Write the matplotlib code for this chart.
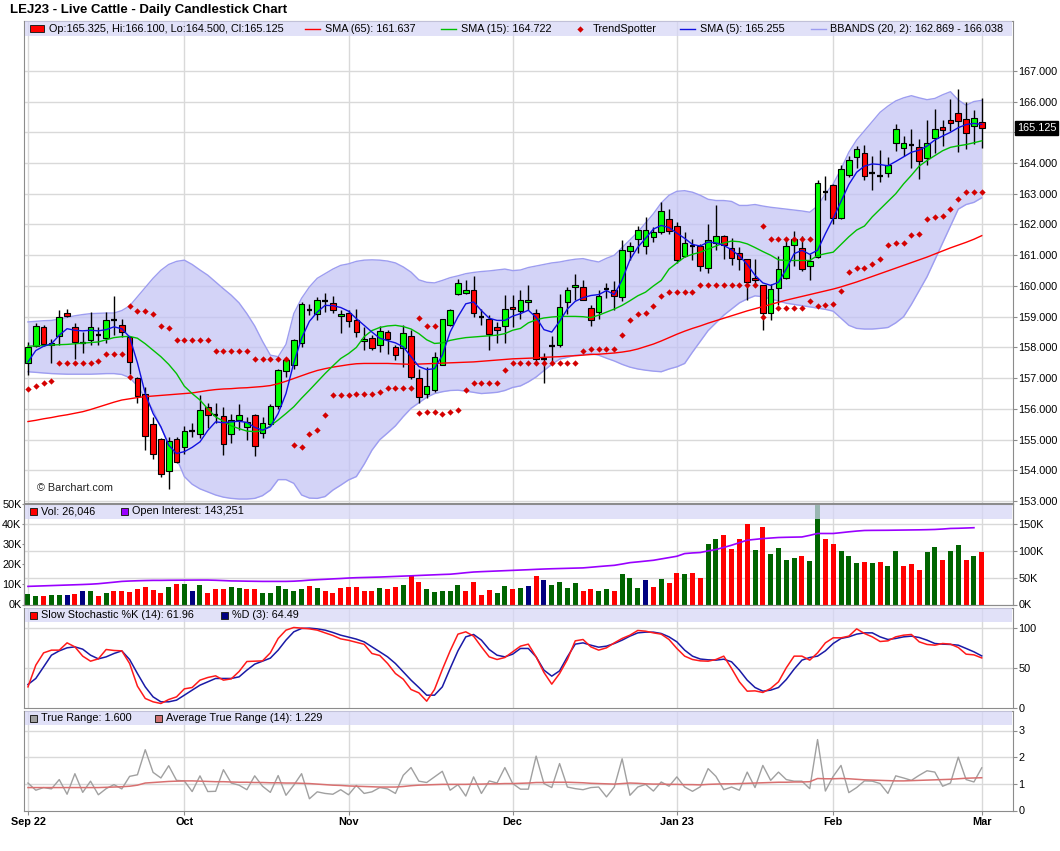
import numpy as np
import matplotlib
matplotlib.use("Agg")
import matplotlib.pyplot as plt
from matplotlib.patches import Rectangle
from matplotlib.lines import Line2D
from matplotlib.transforms import blended_transform_factory

plt.rcParams['font.family'] = ['Liberation Sans', 'DejaVu Sans']

# --- LEJ23 daily bars (Sep 2022 -> Mar 1 2023) ---
opens = [
    157.51, 158.06, 158.68, 158.09, 158.36, 159.13, 158.65, 158.16, 158.25, 158.41,
    158.31, 158.89, 158.74, 158.34, 157.01, 156.50, 155.50, 155.01, 153.97, 155.01,
    154.75, 155.29, 155.19, 156.05, 155.79, 155.77, 155.20, 155.63, 155.40, 155.79,
    155.22, 155.51, 156.09, 157.22, 157.43, 158.16, 159.21, 159.10, 159.50, 159.45,
    159.01, 159.13, 158.90, 158.22, 158.32, 158.09, 158.49, 158.02, 157.99, 158.36,
    157.02, 156.48, 156.61, 157.44, 158.72, 159.75, 159.78, 159.88, 158.99, 158.94,
    158.65, 158.69, 159.32, 159.18, 159.47, 159.12, 157.61, 158.05, 158.09, 159.47,
    159.96, 159.96, 159.29, 159.14, 159.91, 159.86, 159.64, 161.13, 161.54, 161.30,
    161.59, 161.75, 162.18, 161.96, 160.99, 161.29, 161.30, 160.57, 161.41, 161.62,
    161.24, 161.07, 160.89, 160.27, 160.04, 159.13, 159.95, 160.25, 161.32, 161.24,
    160.64, 160.94, 163.05, 163.29, 162.22, 163.60, 164.21, 164.33, 163.69, 163.59,
    163.68, 164.66, 164.49, 164.60, 164.51, 164.16, 164.81, 165.17, 165.40, 165.63,
    165.43, 165.19, 165.325]
highs = [
    158.18, 158.80, 158.72, 158.29, 159.23, 159.26, 158.80, 158.50, 159.15, 158.67,
    159.15, 159.66, 158.94, 158.36, 157.05, 156.72, 155.74, 155.04, 155.09, 155.09,
    155.45, 155.53, 156.45, 156.20, 156.20, 156.07, 155.85, 156.16, 155.74, 155.83,
    155.74, 156.16, 157.31, 157.61, 158.29, 159.48, 159.42, 159.64, 159.77, 159.66,
    159.21, 159.21, 159.26, 158.67, 158.40, 158.69, 158.56, 158.07, 158.72, 158.56,
    157.31, 157.37, 157.86, 158.94, 159.26, 160.24, 160.20, 160.31, 159.26, 159.05,
    158.83, 159.72, 159.70, 159.86, 160.04, 159.26, 157.82, 158.37, 159.75, 159.97,
    160.40, 160.20, 159.37, 159.86, 160.10, 160.16, 161.48, 161.43, 161.94, 162.26,
    161.91, 162.73, 162.51, 162.08, 161.75, 161.53, 161.37, 162.00, 162.64, 161.67,
    161.57, 161.26, 160.89, 160.89, 160.04, 160.07, 160.99, 161.48, 161.78, 161.61,
    161.05, 163.46, 163.59, 163.32, 163.92, 164.24, 164.56, 164.60, 164.24, 164.42,
    164.19, 165.27, 164.89, 165.11, 164.78, 165.40, 165.76, 165.40, 166.08, 166.40,
    165.97, 165.72, 166.10]
lows = [
    157.10, 158.02, 158.05, 157.51, 158.07, 158.99, 157.63, 157.82, 158.07, 158.07,
    158.13, 158.40, 158.34, 157.15, 156.18, 154.66, 154.36, 153.80, 153.41, 154.23,
    154.55, 155.09, 155.04, 155.37, 155.53, 154.50, 154.90, 155.31, 154.99, 154.47,
    155.04, 155.44, 156.01, 157.04, 157.31, 158.02, 159.05, 158.88, 159.15, 159.12,
    158.47, 158.67, 158.34, 157.91, 157.91, 157.86, 157.80, 157.58, 157.37, 156.96,
    156.20, 156.34, 156.56, 157.42, 158.69, 159.70, 159.75, 158.99, 158.72, 157.93,
    158.15, 158.13, 158.67, 158.94, 159.21, 157.50, 156.85, 157.50, 158.02, 159.10,
    159.53, 159.53, 158.69, 158.94, 159.62, 159.21, 159.51, 160.85, 161.07, 161.05,
    161.43, 161.68, 161.70, 160.74, 160.94, 160.83, 160.48, 160.42, 161.16, 160.89,
    160.67, 160.53, 159.53, 159.97, 158.56, 158.90, 159.38, 160.24, 160.64, 160.49,
    160.18, 160.92, 162.80, 162.00, 162.19, 163.54, 163.84, 163.45, 163.13, 163.37,
    163.54, 164.40, 164.24, 163.84, 163.48, 163.92, 164.32, 164.56, 165.05, 164.35,
    164.46, 164.62, 164.50]
closes = [
    158.02, 158.70, 158.11, 158.16, 158.99, 159.01, 158.17, 158.16, 158.67, 158.41,
    158.89, 158.89, 158.49, 157.52, 156.41, 155.12, 154.53, 153.88, 154.96, 154.29,
    155.29, 155.29, 155.98, 155.79, 155.79, 154.85, 155.65, 155.79, 155.58, 154.81,
    155.53, 156.11, 157.28, 157.58, 158.25, 159.42, 159.21, 159.55, 159.50, 159.23,
    159.08, 158.86, 158.49, 158.28, 157.99, 158.54, 158.26, 157.77, 158.48, 157.04,
    156.39, 156.74, 157.69, 158.92, 159.23, 160.11, 159.88, 159.13, 158.99, 158.45,
    158.58, 159.25, 159.24, 159.55, 159.55, 157.61, 157.61, 158.05, 159.32, 159.88,
    160.03, 159.55, 158.90, 159.66, 159.91, 159.66, 161.18, 161.30, 161.83, 161.83,
    161.75, 162.43, 161.80, 160.85, 161.40, 161.29, 160.66, 161.50, 161.62, 161.32,
    160.92, 160.89, 160.12, 160.20, 159.13, 159.91, 160.54, 161.30, 161.53, 160.54,
    160.82, 163.35, 163.05, 162.22, 163.81, 164.11, 164.46, 163.57, 163.69, 163.59,
    163.94, 165.11, 164.65, 164.60, 164.06, 164.66, 165.11, 165.07, 165.30, 165.38,
    164.98, 165.46, 165.125]

sma65 = [
    155.59, 155.63, 155.68, 155.72, 155.77, 155.81, 155.86, 155.91, 155.98, 156.06,
    156.14, 156.22, 156.29, 156.33, 156.37, 156.40, 156.42, 156.44, 156.46, 156.48,
    156.50, 156.52, 156.56, 156.60, 156.63, 156.65, 156.66, 156.68, 156.69, 156.71,
    156.73, 156.76, 156.82, 156.90, 156.99, 157.08, 157.17, 157.25, 157.31, 157.36,
    157.40, 157.44, 157.47, 157.48, 157.48, 157.48, 157.48, 157.47, 157.46, 157.45,
    157.46, 157.47, 157.48, 157.49, 157.50, 157.51, 157.52, 157.53, 157.55, 157.57,
    157.59, 157.61, 157.63, 157.64, 157.65, 157.66, 157.68, 157.69, 157.70, 157.72,
    157.73, 157.75, 157.77, 157.78, 157.80, 157.82, 157.85, 157.89, 157.95, 158.03,
    158.11, 158.21, 158.32, 158.43, 158.53, 158.62, 158.70, 158.79, 158.87, 158.95,
    159.03, 159.11, 159.19, 159.26, 159.33, 159.40, 159.47, 159.54, 159.60, 159.66,
    159.72, 159.78, 159.84, 159.90, 159.97, 160.05, 160.13, 160.22, 160.31, 160.40,
    160.49, 160.58, 160.67, 160.76, 160.85, 160.94, 161.04, 161.14, 161.24, 161.33,
    161.42, 161.52, 161.637]
sma15 = [
    158.04, 158.05, 158.06, 158.08, 158.09, 158.10, 158.12, 158.14, 158.16, 158.18,
    158.25, 158.32, 158.35, 158.36, 158.30, 158.12, 157.91, 157.70, 157.45, 157.15,
    156.74, 156.50, 156.29, 156.00, 155.74, 155.60, 155.45, 155.36, 155.28, 155.26,
    155.29, 155.45, 155.64, 155.85, 156.07, 156.35, 156.61, 156.88, 157.15, 157.40,
    157.64, 157.80, 158.00, 158.35, 158.55, 158.65, 158.70, 158.72, 158.68, 158.60,
    158.45, 158.25, 158.13, 158.15, 158.23, 158.28, 158.32, 158.34, 158.36, 158.38,
    158.40, 158.45, 158.56, 158.62, 158.80, 158.90, 158.96, 158.99, 159.01, 159.01,
    159.01, 159.00, 158.97, 159.05, 159.15, 159.25, 159.37, 159.52, 159.68, 159.80,
    160.00, 160.18, 160.55, 160.75, 160.94, 161.03, 161.10, 161.20, 161.30, 161.40,
    161.46, 161.44, 161.37, 161.25, 161.12, 161.00, 160.85, 160.83, 160.83, 160.83,
    160.83, 160.99, 161.05, 161.10, 161.35, 161.60, 161.82, 161.95, 162.25, 162.50,
    162.75, 163.00, 163.32, 163.60, 163.90, 164.08, 164.24, 164.40, 164.51, 164.56,
    164.60, 164.66, 164.722]
sma5 = [
    157.53, 157.90, 158.04, 158.12, 158.40, 158.61, 158.56, 158.54, 158.56, 158.54,
    158.58, 158.67, 158.61, 158.34, 157.50, 156.50, 155.85, 155.42, 154.82, 154.55,
    154.61, 154.75, 154.93, 155.30, 155.58, 155.55, 155.58, 155.60, 155.56, 155.40,
    155.31, 155.42, 155.85, 156.50, 157.50, 158.30, 158.85, 159.15, 159.37, 159.36,
    159.30, 159.18, 158.94, 158.72, 158.50, 158.30, 158.22, 158.15, 158.02, 157.70,
    157.38, 157.28, 157.31, 157.75, 158.50, 159.00, 159.42, 159.48, 159.20, 158.95,
    158.88, 158.88, 159.02, 159.10, 159.21, 158.98, 158.58, 158.50, 158.85, 159.25,
    159.50, 159.62, 159.69, 159.72, 159.85, 159.72, 160.20, 160.85, 161.26, 161.55,
    161.85, 161.97, 161.90, 161.72, 161.55, 161.35, 161.30, 161.43, 161.40, 161.32,
    161.18, 160.98, 160.70, 160.35, 160.10, 160.02, 160.12, 160.55, 161.05, 161.16,
    161.03, 161.16, 161.70, 162.20, 162.75, 163.30, 163.70, 163.90, 163.97, 163.95,
    163.91, 164.05, 164.20, 164.35, 164.42, 164.55, 164.75, 164.88, 165.00, 165.15,
    165.25, 165.29, 165.255]
bb_upper = [
    158.83, 158.85, 158.87, 158.88, 158.92, 158.98, 159.03, 159.07, 159.10, 159.11,
    159.12, 159.12, 159.20, 159.35, 159.65, 159.95, 160.25, 160.51, 160.70, 160.80,
    160.84, 160.70, 160.52, 160.35, 160.13, 159.91, 159.70, 159.45, 159.10, 158.70,
    158.20, 157.75, 157.70, 158.10, 159.10, 159.60, 159.97, 160.25, 160.40, 160.55,
    160.67, 160.72, 160.80, 160.84, 160.85, 160.84, 160.81, 160.75, 160.62, 160.45,
    160.20, 160.12, 160.10, 160.18, 160.27, 160.33, 160.40, 160.44, 160.47, 160.49,
    160.52, 160.55, 160.50, 160.52, 160.60, 160.65, 160.70, 160.75, 160.78, 160.83,
    160.87, 160.89, 160.83, 160.78, 160.90, 161.00, 161.25, 161.50, 161.75, 162.05,
    162.35, 162.70, 162.95, 163.08, 163.10, 163.05, 162.95, 162.82, 162.78, 162.78,
    162.75, 162.62, 162.62, 162.65, 162.60, 162.56, 162.53, 162.50, 162.47, 162.44,
    162.40, 162.60, 163.00, 163.32, 163.80, 164.35, 164.75, 165.05, 165.35, 165.65,
    165.85, 166.02, 166.12, 166.19, 166.12, 166.06, 166.10, 166.22, 166.32, 166.05,
    165.88, 166.00, 166.038]
bb_lower = [
    157.21, 157.19, 157.17, 157.15, 157.14, 157.13, 157.13, 157.13, 157.13, 157.14,
    157.15, 157.15, 157.12, 157.02, 156.75, 156.35, 155.96, 155.40, 154.88, 154.40,
    153.80, 153.55, 153.40, 153.30, 153.20, 153.13, 153.09, 153.07, 153.07, 153.09,
    153.18, 153.36, 153.70, 153.70, 153.58, 153.20, 153.10, 153.09, 153.15, 153.36,
    153.52, 153.69, 153.80, 154.20, 154.66, 155.00, 155.22, 155.45, 155.75, 156.02,
    156.20, 156.38, 156.50, 156.56, 156.60, 156.61, 156.58, 156.54, 156.50, 156.52,
    156.54, 156.60, 156.70, 156.75, 156.88, 157.04, 157.25, 157.45, 157.62, 157.68,
    157.75, 157.77, 157.80, 157.75, 157.65, 157.56, 157.45, 157.36, 157.30, 157.26,
    157.23, 157.21, 157.30, 157.37, 157.48, 157.85, 158.20, 158.55, 158.80, 159.05,
    159.25, 159.45, 159.58, 159.68, 159.65, 159.58, 159.51, 159.44, 159.40, 159.36,
    159.32, 159.28, 159.24, 159.18, 158.95, 158.72, 158.62, 158.60, 158.60, 158.62,
    158.65, 158.80, 159.00, 159.40, 159.85, 160.30, 160.85, 161.40, 161.95, 162.50,
    162.65, 162.72, 162.869]

# TrendSpotter stop dots; on flip days a second dot is drawn
trend_spotter = [
    156.66, 156.76, 156.86, 156.92, 157.48, 157.48, 157.48, 157.48, 157.48, 157.57,
    157.80, 157.80, 157.80, 159.34, 159.20, 159.20, 159.10, 158.71, 158.63, 158.25,
    158.25, 158.25, 158.25, 158.25, 157.88, 157.88, 157.88, 157.88, 157.88, 157.61,
    157.61, 157.61, 157.61, 157.61, 154.82, 154.77, 155.17, 155.33, 155.79, 156.44,
    156.44, 156.46, 156.48, 156.48, 156.48, 156.55, 156.68, 156.68, 156.68, 156.68,
    158.97, 158.71, 158.71, 155.82, 155.91, 155.98, 156.63, 156.85, 156.85, 156.85,
    156.85, 157.26, 157.48, 157.48, 157.48, 157.48, 157.48, 157.48, 157.48, 157.48,
    157.48, 157.87, 157.96, 157.96, 157.96, 157.96, 158.39, 158.88, 159.10, 159.13,
    159.36, 159.68, 159.79, 159.79, 159.79, 159.79, 160.04, 160.04, 160.04, 160.04,
    160.04, 160.04, 160.04, 160.04, 161.96, 161.54, 161.54, 161.54, 161.54, 161.54,
    161.54, 159.36, 159.39, 159.42, 159.85, 160.45, 160.59, 160.59, 160.72, 160.88,
    161.34, 161.40, 161.40, 161.67, 161.70, 162.18, 162.25, 162.29, 162.51, 162.83,
    163.06, 163.06, 163.06]
ts_extra_bar = [13, 50, 51, 52, 94, 96, 97, 98, 99, 100]
ts_extra_val = [157.05, 155.87, 155.91, 155.91, 158.99, 159.29, 159.29, 159.29, 159.29, 159.52]

# volume in thousands; u = close up, d = down, n = unchanged
volume_k = [
    5.1, 4.1, 4.1, 4.6, 4.6, 4.6, 5.1, 6.6, 6.6, 4.1,
    5.6, 6.6, 6.6, 6.1, 7.6, 8.6, 7.1, 5.6, 8.6, 10.2,
    10.2, 6.6, 9.7, 5.6, 7.6, 7.6, 8.6, 8.1, 7.6, 7.6,
    5.6, 5.6, 9.2, 7.6, 6.6, 7.6, 9.2, 8.1, 6.6, 5.6,
    8.1, 8.5, 8.5, 6.5, 6.5, 8.0, 7.5, 8.5, 9.5, 14.0,
    11.0, 7.5, 6.0, 6.5, 6.5, 9.5, 6.5, 11.0, 4.5, 7.0,
    5.5, 9.0, 7.5, 8.0, 9.0, 14.0, 12.0, 9.5, 11.0, 8.0,
    10.5, 6.5, 7.5, 6.5, 7.5, 6.5, 15.0, 13.0, 8.0, 12.0,
    8.5, 12.5, 10.5, 15.5, 15.0, 15.5, 13.0, 30.3, 32.8, 34.5,
    27.5, 32.5, 40.0, 27.0, 38.5, 25.0, 28.0, 22.0, 23.0, 24.0,
    21.5, 58.0, 32.5, 30.0, 26.5, 24.0, 20.5, 21.0, 20.5, 21.0,
    19.0, 26.5, 19.0, 20.0, 17.0, 26.0, 28.5, 22.0, 26.5, 29.5,
    22.0, 24.0, 26.046]
vol_dir = ("uuduundnud" "udddddddud" "unuddduudd" "uuuuuududd" "ddddduddud"
           "duuuuudddd" "uudundnuuu" "udduuduuun" "duddudduud" "ddduduuuud"
           "uudduuudud" "uuddduuduu" "dud")
# open interest in thousands (not yet reported for the last day)
open_interest_k = [
    33.8, 34.3, 34.8, 35.3, 35.8, 36.3, 36.8, 37.3, 37.9, 38.8,
    40.2, 41.6, 43.1, 43.8, 44.3, 44.7, 45.0, 45.0, 45.2, 45.3,
    45.4, 45.5, 45.6, 45.6, 45.2, 44.6, 44.0, 43.8, 43.5, 43.3,
    43.1, 43.1, 43.1, 43.1, 43.5, 44.3, 45.5, 46.3, 47.0, 47.8,
    48.5, 49.4, 50.0, 50.4, 50.8, 51.2, 51.8, 52.4, 53.0, 53.5,
    54.2, 54.8, 55.4, 56.0, 56.5, 57.8, 59.3, 60.6, 61.3, 61.9,
    62.5, 63.1, 63.7, 64.3, 64.9, 65.6, 66.2, 66.7, 67.1, 67.5,
    67.9, 68.3, 69.5, 70.8, 72.0, 73.1, 75.5, 78.1, 79.5, 81.0,
    82.5, 85.0, 87.5, 90.0, 95.0, 96.2, 97.0, 100.0, 102.5, 106.5,
    110.6, 115.3, 120.0, 121.5, 123.0, 124.0, 125.0, 125.4, 125.7, 126.0,
    129.0, 132.5, 132.5, 132.5, 134.0, 135.6, 137.0, 138.1, 138.3, 138.4,
    138.5, 138.7, 138.9, 139.1, 139.3, 139.6, 140.0, 140.8, 141.9, 142.2,
    142.7, 143.25]

stoch_k = [
    25.8, 52.9, 68.3, 71.7, 71.7, 80.8, 75.8, 64.2, 57.9, 60.8,
    72.5, 71.3, 70.8, 55.0, 26.7, 11.3, 7.1, 5.0, 10.0, 13.3,
    23.3, 25.0, 34.2, 37.5, 39.6, 34.2, 35.8, 45.0, 57.5, 57.9,
    58.3, 68.3, 86.3, 96.7, 100.0, 99.2, 98.3, 96.7, 93.3, 90.0,
    85.8, 84.0, 81.5, 79.0, 67.5, 65.0, 55.0, 42.5, 35.4, 22.5,
    18.3, 7.9, 22.5, 47.5, 70.8, 91.7, 94.6, 89.2, 75.8, 63.3,
    60.0, 62.5, 69.6, 76.7, 79.2, 63.3, 43.8, 29.2, 42.5, 60.0,
    83.3, 85.0, 75.8, 71.7, 74.6, 80.8, 86.3, 90.4, 96.3, 95.4,
    93.3, 91.7, 85.0, 73.8, 64.2, 60.0, 58.3, 57.9, 60.0, 64.2,
    48.8, 32.1, 20.4, 20.8, 18.8, 23.8, 32.1, 49.6, 64.2, 64.2,
    59.2, 68.3, 80.8, 87.1, 87.1, 89.2, 98.3, 92.5, 88.3, 82.5,
    83.3, 88.3, 90.4, 91.3, 82.1, 78.8, 77.9, 80.0, 79.2, 75.0,
    66.7, 65.8, 61.96]
stoch_d = [
    28.8, 36.3, 50.8, 65.4, 70.8, 74.6, 75.8, 72.9, 65.4, 60.8,
    63.3, 67.5, 70.8, 60.0, 42.5, 25.8, 13.3, 7.1, 7.1, 9.2,
    15.4, 21.7, 27.9, 32.1, 36.3, 36.3, 36.3, 38.3, 46.7, 54.2,
    57.9, 61.7, 71.7, 84.2, 94.6, 98.8, 99.2, 98.3, 96.7, 93.8,
    90.4, 88.0, 85.5, 82.1, 75.8, 69.6, 63.3, 55.0, 44.6, 34.2,
    25.0, 15.4, 15.4, 25.8, 48.8, 70.8, 88.3, 91.3, 84.2, 72.5,
    65.4, 63.3, 66.7, 73.8, 73.8, 63.3, 46.7, 39.2, 45.8, 63.3,
    79.2, 80.8, 77.9, 75.4, 76.7, 80.0, 84.2, 89.2, 93.3, 94.2,
    94.2, 92.5, 88.3, 82.1, 71.7, 64.2, 60.6, 59.6, 59.2, 60.4,
    57.1, 46.7, 34.2, 25.0, 20.4, 21.7, 25.0, 35.0, 47.9, 59.2,
    62.5, 64.2, 70.8, 80.0, 86.3, 88.3, 91.7, 93.3, 93.3, 88.3,
    85.0, 86.3, 88.3, 89.2, 87.5, 84.2, 80.0, 79.2, 78.8, 77.9,
    73.8, 69.6, 64.49]

true_range = [
    1.03, 0.76, 0.86, 0.81, 1.16, 0.61, 1.38, 0.68, 1.10, 0.59,
    0.82, 0.97, 0.81, 1.28, 1.34, 2.28, 1.43, 1.22, 1.68, 1.13,
    1.11, 0.71, 1.30, 0.71, 0.72, 1.53, 1.03, 0.95, 0.78, 1.30,
    0.91, 0.68, 1.31, 0.57, 0.95, 1.38, 0.44, 0.70, 0.64, 0.61,
    0.78, 0.59, 0.94, 0.64, 0.70, 0.86, 0.81, 0.64, 1.32, 1.61,
    1.10, 1.05, 1.26, 1.47, 0.76, 0.97, 0.54, 1.26, 0.64, 1.11,
    1.03, 1.61, 1.01, 0.80, 0.80, 2.04, 1.01, 0.86, 1.76, 0.88,
    0.82, 0.78, 0.86, 0.88, 0.51, 0.88, 1.94, 0.57, 0.88, 0.98,
    0.73, 1.07, 0.91, 1.26, 0.88, 0.72, 0.89, 1.57, 1.28, 0.78,
    0.88, 0.76, 1.44, 0.86, 1.69, 1.13, 1.44, 1.16, 1.10, 1.10,
    0.82, 2.66, 0.73, 1.28, 1.69, 0.67, 0.86, 1.11, 1.10, 1.01,
    0.64, 1.30, 1.22, 1.13, 1.32, 1.49, 1.44, 0.91, 1.03, 2.00,
    1.16, 1.07, 1.60]
atr14 = [
    0.86, 0.86, 0.86, 0.86, 0.86, 0.86, 0.86, 0.86, 0.86, 0.86,
    0.87, 0.88, 0.89, 0.91, 0.95, 1.03, 1.05, 1.07, 1.09, 1.10,
    1.11, 1.11, 1.10, 1.09, 1.08, 1.08, 1.07, 1.06, 1.06, 1.05,
    1.05, 1.04, 1.04, 1.03, 1.03, 1.02, 1.01, 0.99, 0.97, 0.95,
    0.94, 0.92, 0.91, 0.90, 0.89, 0.88, 0.88, 0.88, 0.90, 0.93,
    0.95, 0.96, 0.97, 0.98, 0.98, 0.98, 0.98, 0.99, 0.99, 1.00,
    1.00, 1.01, 1.01, 1.02, 1.03, 1.05, 1.05, 1.06, 1.06, 1.06,
    1.05, 1.04, 1.02, 1.01, 1.00, 0.99, 1.01, 1.03, 1.02, 1.00,
    0.99, 0.99, 0.98, 0.98, 0.97, 0.97, 0.96, 0.98, 0.99, 1.00,
    1.00, 1.01, 1.02, 1.03, 1.04, 1.05, 1.06, 1.06, 1.07, 1.07,
    1.08, 1.20, 1.19, 1.19, 1.20, 1.19, 1.17, 1.15, 1.14, 1.13,
    1.12, 1.11, 1.11, 1.12, 1.13, 1.14, 1.15, 1.16, 1.17, 1.19,
    1.21, 1.22, 1.229]

month_labels = ['Sep 22', 'Oct', 'Nov', 'Dec', 'Jan 23', 'Feb', 'Mar']
month_first_bar = [0, 20, 41, 62, 83, 103, 122]

# --- layout in pixels of the 1060x851 original ---
W, H = 1060, 851
LEFT, RIGHT = 24, 1013
GRID = '#d9d9d9'
SPINE = '#8c8c8c'
FS = 7.8
VOL_TOP, OI_TOP = 50, 187.5


def px_box(top, bottom):
    return [LEFT / W, 1 - bottom / H, (RIGHT - LEFT) / W, (bottom - top) / H]


def fx(px):
    return px / W


def fy(py):
    return 1 - py / H


fig = plt.figure(figsize=(W / 100, H / 100), dpi=100)
ax_p = fig.add_axes(px_box(21, 503))
ax_v = fig.add_axes(px_box(504, 604.5))
ax_s = fig.add_axes(px_box(607.5, 707.5))
ax_t = fig.add_axes(px_box(710.5, 810.5))
panels = [ax_p, ax_v, ax_s, ax_t]

x = np.arange(len(closes))
o, hi, lo, c = (np.array(a) for a in (opens, highs, lows, closes))

for ax in panels:
    ax.set_xlim(-0.51, 126.0)
    for sp in ax.spines.values():
        sp.set_color(SPINE)
    for m in month_first_bar:
        ax.axvline(m, color=GRID, lw=1, zorder=0)
    ax.set_xticks(month_first_bar)
    ax.tick_params(axis='x', labelbottom=False, length=0)
    ax.yaxis.tick_right()
    ax.tick_params(axis='y', labelsize=FS, color=SPINE, length=3, direction='out', pad=0.8)

# --- price panel ---
price_ticks = np.arange(153, 168)
ax_p.set_ylim(152.94, 168.62)
ax_p.set_yticks(price_ticks)
# the last-price box sits on top of the 165 label, so that one is left blank
ax_p.set_yticklabels(['' if abs(v - closes[-1]) < 0.5 else f'{v:.3f}' for v in price_ticks])
for v in price_ticks:
    ax_p.axhline(v, color=GRID, lw=1, zorder=0)

ax_p.fill_between(x, bb_lower, bb_upper, color='#c2c2f5', alpha=0.72, lw=0, zorder=1)
ax_p.plot(x, bb_upper, color='#9d9df0', lw=1, zorder=1.5)
ax_p.plot(x, bb_lower, color='#9d9df0', lw=1, zorder=1.5)

ax_p.vlines(x, lo, hi, color='black', lw=1, zorder=3)
up = c > o
down = c < o
flat = ~(up | down)
body_w = 0.72
ax_p.bar(x[up], (c - o)[up], bottom=o[up], width=body_w, color='#00ff00',
         edgecolor='black', lw=0.8, zorder=4)
ax_p.bar(x[down], (o - c)[down], bottom=c[down], width=body_w, color='#ff0000',
         edgecolor='black', lw=0.8, zorder=4)
ax_p.hlines(c[flat], x[flat] - body_w / 2, x[flat] + body_w / 2, color='black', lw=1.6, zorder=4)

ax_p.plot(x, sma65, color='#ff0000', lw=1, zorder=5)
ax_p.plot(x, sma15, color='#00c000', lw=1, zorder=5)
ax_p.plot(x, sma5, color='#1010e0', lw=1, zorder=5)
ax_p.plot(x, trend_spotter, ls='none', marker='D', ms=3.2, color='#d40000', mew=0, zorder=6)
ax_p.plot(ts_extra_bar, ts_extra_val, ls='none', marker='D', ms=3.2, color='#d40000', mew=0, zorder=6)

ax_p.text(13 / 989, 15 / 482, '\u00a9 Barchart.com', transform=ax_p.transAxes,
          fontsize=FS, color='#222222', va='center', zorder=7)
last_tr = blended_transform_factory(ax_p.transAxes, ax_p.transData)
ax_p.text(1 + 4 / 989, closes[-1], f'{closes[-1]:.3f}', transform=last_tr, ha='left',
          va='center', fontsize=FS, color='white', clip_on=False, zorder=10,
          bbox=dict(boxstyle='square,pad=0.18', fc='black', ec='black'))

# --- volume / open interest ---
vol_colors = {'u': '#006400', 'd': '#ff0000', 'n': '#000080'}
ax_v.bar(x, volume_k, width=0.64, color=[vol_colors[d] for d in vol_dir], zorder=2)
ax_v.set_ylim(0, VOL_TOP)
ax_v.yaxis.tick_left()
ax_v.set_yticks(range(0, 51, 10))
ax_v.set_yticklabels([f'{k}K' for k in range(0, 51, 10)])
ax_v.tick_params(axis='y', length=1.5, pad=0.3)
for k in (50, 100, 150):
    ax_v.axhline(k * VOL_TOP / OI_TOP, color=GRID, lw=1, zorder=0)
ax_oi = ax_v.twinx()
ax_oi.set_xlim(ax_v.get_xlim())
ax_oi.set_ylim(0, OI_TOP)
ax_oi.plot(x[:len(open_interest_k)], open_interest_k, color='#9900ff', lw=1.2, zorder=3)
ax_oi.set_yticks([0, 50, 100, 150])
ax_oi.set_yticklabels(['0K', '50K', '100K', '150K'])
ax_oi.tick_params(axis='y', labelsize=FS, color=SPINE, length=3, pad=0.8)
for sp in ax_oi.spines.values():
    sp.set_color(SPINE)

# --- slow stochastic ---
ax_s.set_ylim(0, 125)
ax_s.set_yticks([0, 50, 100])
for v in (50, 100):
    ax_s.axhline(v, color=GRID, lw=1, zorder=0)
ax_s.plot(x, stoch_d, color='#1a1aa6', lw=1.1, zorder=3)
ax_s.plot(x, stoch_k, color='#ff1a1a', lw=1.1, zorder=4)

# --- true range ---
ax_t.set_ylim(0, 3.75)
ax_t.set_yticks([0, 1, 2, 3])
for v in (1, 2, 3):
    ax_t.axhline(v, color=GRID, lw=1, zorder=0)
ax_t.plot(x, true_range, color='#a0a0a0', lw=1, zorder=3)
ax_t.plot(x, atr14, color='#d87070', lw=1.1, zorder=4)
ax_t.tick_params(axis='x', labelbottom=True, length=3, color=SPINE, pad=2)
ax_t.set_xticklabels(month_labels, fontsize=FS, fontweight='bold')

# --- title and legend strips ---
fig.text(fx(10), fy(9.5), 'LEJ23 - Live Cattle - Daily Candlestick Chart',
         fontsize=9.5, fontweight='bold', va='center')


def strip(top):
    fig.add_artist(Rectangle((fx(25), fy(top + 14.5)), (RIGHT - LEFT - 2) / W, 14 / H,
                             fc='#d6d6f6', alpha=0.72, lw=0, zorder=5))
    return top + 7.5


def swatch(px, yc, color, w=7):
    fig.add_artist(Rectangle((fx(px), fy(yc + 3.5)), w / W, 7 / H, fc=color,
                             ec='#222222', lw=0.7, zorder=6))


def dash(px, yc, color):
    fig.add_artist(Line2D([fx(px), fx(px + 15)], [fy(yc), fy(yc)], color=color, lw=1, zorder=6))


def label(px, yc, s):
    fig.text(fx(px), fy(yc), s, fontsize=FS, va='center', zorder=7)


yc = strip(21)
swatch(30, yc, '#ff0000', w=14)
label(49, yc, 'Op:165.325, Hi:166.100, Lo:164.500, Cl:165.125')
dash(305, yc, '#ff0000')
label(325, yc, 'SMA (65): 161.637')
dash(441, yc, '#00c000')
label(461, yc, 'SMA (15): 164.722')
fig.add_artist(Line2D([fx(580)], [fy(yc)], ls='none', marker='D', ms=3.2,
                      color='#d40000', mew=0, zorder=6))
label(593, yc, 'TrendSpotter')
dash(680, yc, '#1010e0')
label(700, yc, 'SMA (5): 165.255')
dash(811, yc, '#9d9df0')
label(830, yc, 'BBANDS (20, 2): 162.869 - 166.038')

yc = strip(504)
swatch(30, yc, '#ff0000')
label(41, yc, 'Vol: 26,046')
swatch(121, yc, '#9900ff')
label(132, yc, 'Open Interest: 143,251')

yc = strip(607.5)
swatch(30, yc, '#ff0000')
label(41, yc, 'Slow Stochastic %K (14): 61.96')
swatch(221, yc, '#000080')
label(232, yc, '%D (3): 64.49')

yc = strip(710.5)
swatch(30, yc, '#a0a0a0')
label(41, yc, 'True Range: 1.600')
swatch(155, yc, '#d07070')
label(166, yc, 'Average True Range (14): 1.229')

fig.savefig('out.png', dpi=100)
